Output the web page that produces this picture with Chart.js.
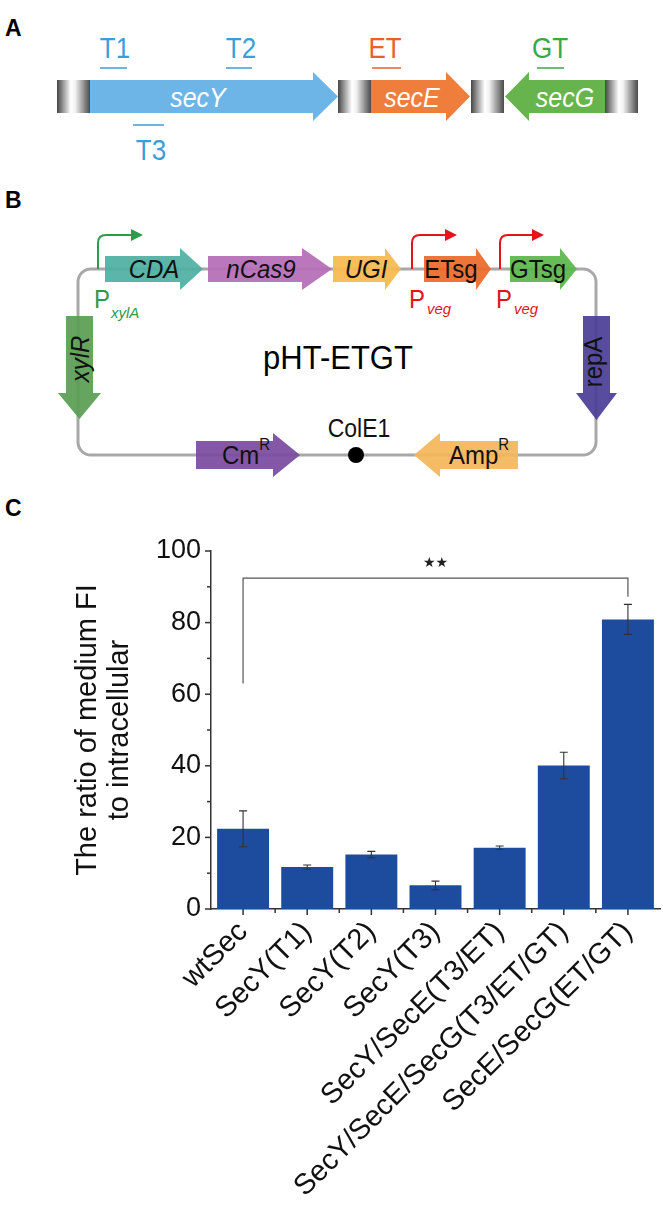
<!DOCTYPE html>
<html>
<head>
<meta charset="utf-8">
<script src="https://cdn.jsdelivr.net/npm/chart.js@4.4.1/dist/chart.umd.min.js"></script>
<style>
  html, body { margin:0; padding:0; background:#fff; }
  #wrap { position:relative; width:663px; height:1214px; overflow:hidden; font-family:"Liberation Sans", Arial, sans-serif; }
  #diag { position:absolute; left:0; top:0; }
  #chartBox { position:absolute; left:0; top:520px; width:663px; height:694px; }
</style>
</head>
<body>
<div id="wrap">
<svg id="diag" width="663" height="520" xmlns="http://www.w3.org/2000/svg" font-family="Liberation Sans, Arial, sans-serif">
  <defs>
    <linearGradient id="cyl" x1="0" y1="0" x2="1" y2="0">
      <stop offset="0" stop-color="#454545"/>
      <stop offset="0.42" stop-color="#ffffff"/>
      <stop offset="0.55" stop-color="#f2f2f2"/>
      <stop offset="1" stop-color="#4a4a4a"/>
    </linearGradient>
  </defs>
  <!-- Panel A -->
  <text x="5" y="36" font-size="23" font-weight="bold" fill="#000">A</text>
  <rect x="57" y="80" width="33" height="33" fill="url(#cyl)"/>
  <rect x="338" y="80" width="33" height="33" fill="url(#cyl)"/>
  <rect x="471" y="80" width="33" height="33" fill="url(#cyl)"/>
  <rect x="605" y="80" width="33" height="33" fill="url(#cyl)"/>
  <polygon points="90,80 313,80 313,72 338,96.5 313,121 313,113 90,113" fill="#6db5e6"/>
  <polygon points="371,80 446,80 446,72 470,96.5 446,121 446,113 371,113" fill="#ef7d3c"/>
  <polygon points="505,96.5 529,72 529,80 605,80 605,113 529,113 529,121" fill="#67b44f"/>
  <g font-size="25" font-style="italic" fill="#fff" text-anchor="middle">
    <text transform="translate(198,107) scale(1,1.1)">secY</text>
    <text transform="translate(412,107) scale(1,1.1)">secE</text>
    <text transform="translate(565,107) scale(1,1.1)">secG</text>
  </g>
  <g font-size="26" text-anchor="middle">
    <text transform="translate(115,58) scale(1,1.1)" fill="#3a9fd9">T1</text>
    <line x1="100" y1="68" x2="127" y2="68" stroke="#3a9fd9" stroke-width="1.5"/>
    <text transform="translate(241,58) scale(1,1.1)" fill="#3a9fd9">T2</text>
    <line x1="226" y1="68" x2="252" y2="68" stroke="#3a9fd9" stroke-width="1.5"/>
    <text transform="translate(385,58) scale(1,1.1)" fill="#e8602a">ET</text>
    <line x1="372" y1="68" x2="401" y2="68" stroke="#e8602a" stroke-width="1.5"/>
    <text transform="translate(550,58) scale(1,1.1)" fill="#3aa845">GT</text>
    <line x1="537" y1="68" x2="564" y2="68" stroke="#3aa845" stroke-width="1.5"/>
    <line x1="133" y1="125" x2="164" y2="125" stroke="#3a9fd9" stroke-width="1.5"/>
    <text transform="translate(151,160) scale(1,1.1)" fill="#3a9fd9">T3</text>
  </g>

  <!-- Panel B -->
  <text x="5" y="208" font-size="23" font-weight="bold" fill="#000">B</text>
  <rect x="78" y="269" width="518" height="186" rx="13" ry="13" fill="none" stroke="#a8a8a8" stroke-width="3"/>
  <g opacity="0.93">
    <polygon points="105,256 180,256 180,248 203,269 180,290 180,282 105,282" fill="#4fb0a3"/>
    <polygon points="208,256 302,256 302,248 332,269 302,290 302,282 208,282" fill="#b66db7"/>
    <polygon points="333,256 385,256 385,248 401,269 385,290 385,282 333,282" fill="#f7ba4f"/>
    <polygon points="424,256 476,256 476,248 491,269 476,290 476,282 424,282" fill="#ee6a2a"/>
    <polygon points="510,256 560,256 560,248 577,269 560,290 560,282 510,282" fill="#5cb84c"/>
    <polygon points="66,316 93,316 93,393 101,393 79.5,419 58,393 66,393" fill="#5a9f55"/>
    <polygon points="583,316 610,316 610,393 617,393 596.5,420 576,393 583,393" fill="#4b3f97"/>
    <polygon points="196,441 273,441 273,433 300,455 273,477 273,469 196,469" fill="#7b4ca0"/>
    <polygon points="414,455 440,433 440,441 518,441 518,469 440,469 440,477" fill="#f6b65a"/>
  </g>
  <g font-size="24" fill="#111">
    <g text-anchor="middle">
      <text transform="translate(154,278) scale(1,1.1)" font-style="italic">CDA</text>
      <text transform="translate(261,278) scale(1,1.1)" font-style="italic">nCas9</text>
      <text transform="translate(366,278) scale(1,1.1)" font-style="italic">UGI</text>
      <text transform="translate(451,278) scale(1,1.1)">ETsg</text>
      <text transform="translate(538,278) scale(1,1.1)">GTsg</text>
      <text transform="translate(89,359) rotate(-90) scale(1,1.1)" font-style="italic">xylR</text>
      <text transform="translate(602,362) rotate(-90) scale(1,1.1)">repA</text>
    </g>
    <text transform="translate(222,464) scale(1,1.1)">Cm<tspan font-size="15" dy="-13">R</tspan></text>
    <text transform="translate(449,464) scale(1,1.1)">Amp<tspan font-size="15" dy="-13">R</tspan></text>
  </g>
  <path d="M98,269 V243 Q98,235 106,235 H132" fill="none" stroke="#2e9b4a" stroke-width="2"/>
  <polygon points="131,229 143,235 131,241" fill="#2e9b4a"/>
  <path d="M412,269 V243 Q412,235 420,235 H446" fill="none" stroke="#e3141b" stroke-width="2"/>
  <polygon points="445,229 457,235 445,241" fill="#e3141b"/>
  <path d="M500,269 V243 Q500,235 508,235 H533" fill="none" stroke="#e3141b" stroke-width="2"/>
  <polygon points="532,229 544,235 532,241" fill="#e3141b"/>
  <text transform="translate(94,308) scale(1,1.1)" font-size="24" fill="#2e9b4a">P</text>
  <text x="111" y="318" font-size="15" font-style="italic" fill="#2e9b4a">xylA</text>
  <text transform="translate(409,308) scale(1,1.1)" font-size="24" fill="#e3141b">P</text>
  <text x="427" y="314" font-size="15" font-style="italic" fill="#e3141b">veg</text>
  <text transform="translate(496,308) scale(1,1.1)" font-size="24" fill="#e3141b">P</text>
  <text x="514" y="314" font-size="15" font-style="italic" fill="#e3141b">veg</text>
  <circle cx="356" cy="455" r="8" fill="#000"/>
  <text transform="translate(359,437) scale(1,1.1)" font-size="23" fill="#111" text-anchor="middle">ColE1</text>
  <text transform="translate(338,369) scale(1,1.08)" font-size="31" fill="#000" text-anchor="middle">pHT-ETGT</text>

  <text x="5" y="516" font-size="23" font-weight="bold" fill="#000">C</text>
</svg>
<div id="chartBox"><canvas id="c" width="663" height="694" style="width:663px;height:694px"></canvas></div>
</div>
<script>
// ---- data ----
const categories = ['wtSec', 'SecY(T1)', 'SecY(T2)', 'SecY(T3)', 'SecY/SecE(T3/ET)', 'SecY/SecE/SecG(T3/ET/GT)', 'SecE/SecG(ET/GT)'];
const ratioValues = [22.4, 11.7, 15.2, 6.6, 17.1, 40.1, 80.9];
const ratioErrors = [5.0, 0.6, 0.9, 1.2, 0.5, 3.7, 4.2];
const yTickValues = [0, 10, 20, 30, 40, 50, 60, 70, 80, 90, 100];
const yLabelValues = [0, 20, 40, 60, 80, 100];
const sigPair = [0, 6];
const sigLegLeft = 63;
const sigBracketTop = 92.4;
const sigLegRight = 87.2;
const sigMarkY = 96.5;
const sigMark = '★★';

const FONT = 'Liberation Sans';

const decor = {
  id: 'decor',
  afterDraw(chart) {
    const ctx = chart.ctx;
    const xs = chart.scales.x, ys = chart.scales.y;
    const meta = chart.getDatasetMeta(0);
    ctx.save();
    ctx.strokeStyle = '#333';
    ctx.lineWidth = 1.1;
    ratioValues.forEach((v, i) => {
      const x = meta.data[i].x;
      const yt = ys.getPixelForValue(v + ratioErrors[i]);
      const yb = ys.getPixelForValue(v - ratioErrors[i]);
      ctx.beginPath();
      ctx.moveTo(x, yt); ctx.lineTo(x, yb);
      ctx.moveTo(x - 4, yt); ctx.lineTo(x + 4, yt);
      ctx.moveTo(x - 4, yb); ctx.lineTo(x + 4, yb);
      ctx.stroke();
    });
    ctx.strokeStyle = '#333';
    ctx.lineWidth = 1.5;
    const ax = xs.left, ay = ys.bottom;
    yTickValues.forEach(v => {
      const y = ys.getPixelForValue(v);
      const len = yLabelValues.includes(v) ? 6 : 4;
      ctx.beginPath(); ctx.moveTo(ax, y); ctx.lineTo(ax - len, y); ctx.stroke();
    });
    categories.forEach((c, i) => {
      const x = xs.getPixelForValue(i);
      ctx.beginPath(); ctx.moveTo(x, ay); ctx.lineTo(x, ay + 6); ctx.stroke();
      if (i > 0) {
        const xb = (x + xs.getPixelForValue(i - 1)) / 2;
        ctx.beginPath(); ctx.moveTo(xb, ay); ctx.lineTo(xb, ay + 4); ctx.stroke();
      }
    });
    const x1 = xs.getPixelForValue(sigPair[0]);
    const x2 = xs.getPixelForValue(sigPair[1]);
    ctx.strokeStyle = '#555';
    ctx.lineWidth = 1.2;
    ctx.beginPath();
    ctx.moveTo(x1, ys.getPixelForValue(sigLegLeft));
    ctx.lineTo(x1, ys.getPixelForValue(sigBracketTop));
    ctx.lineTo(x2, ys.getPixelForValue(sigBracketTop));
    ctx.lineTo(x2, ys.getPixelForValue(sigLegRight));
    ctx.stroke();
    ctx.fillStyle = '#222';
    ctx.font = '14px "DejaVu Sans"';
    ctx.textAlign = 'center';
    ctx.textBaseline = 'middle';
    ctx.fillText(sigMark, (x1 + x2) / 2, ys.getPixelForValue(sigMarkY));
    ctx.restore();
  }
};

new Chart(document.getElementById('c'), {
  type: 'bar',
  data: {
    labels: categories,
    datasets: [{
      data: ratioValues,
      backgroundColor: '#1d4c9e',
      borderWidth: 0,
      barPercentage: 0.81,
      categoryPercentage: 1.0
    }]
  },
  options: {
    responsive: false,
    animation: false,
    devicePixelRatio: 1,
    layout: { padding: { top: 31, right: 3, left: 0, bottom: 0 } },
    plugins: { legend: { display: false }, tooltip: { enabled: false } },
    scales: {
      x: {
        grid: { display: false, drawTicks: false },
        border: { display: true, color: '#333', width: 1.5 },
        ticks: {
          autoSkip: false, maxRotation: 45, minRotation: 45, padding: 6,
          color: '#111', font: { family: FONT, size: 29 }
        },
        afterFit(s) { s.height = 305; }
      },
      y: {
        min: 0, max: 100,
        grid: { display: false, drawTicks: false },
        border: { display: true, color: '#333', width: 1.5 },
        ticks: {
          stepSize: 10, padding: 10, color: '#111',
          font: { family: FONT, size: 27 },
          callback: (v) => yLabelValues.includes(v) ? String(v) : ''
        },
        title: {
          display: true,
          text: ['The ratio of medium FI', 'to intracellular'],
          color: '#111',
          font: { family: FONT, size: 29, lineHeight: 1.1 },
          padding: { top: 72, bottom: 0 }
        },
        afterFit(s) { s.width = 211; }
      }
    }
  },
  plugins: [decor]
});
</script>
</body>
</html>
